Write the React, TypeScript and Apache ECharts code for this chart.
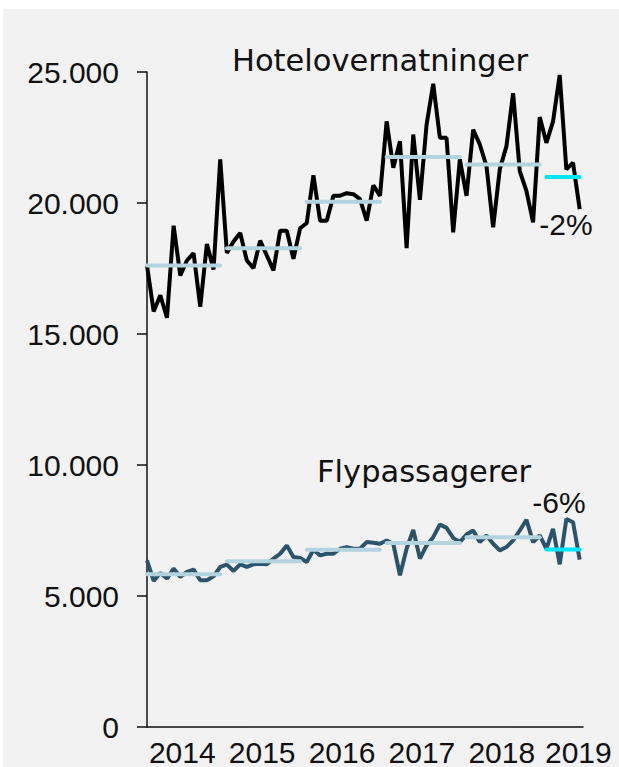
import React, { useEffect, useRef } from "react";
import * as echarts from "echarts";

// Monthly values, Jan 2014 – Jun 2019 (index 0 = Jan 2014)
const hotelNights: number[] = [
  17615, 15858, 16477, 15620, 19133, 17236, 17805, 18085, 16036, 18439, 17464, 21664,
  18097, 18527, 18857, 17805, 17517, 18565, 17995, 17426, 18944, 18944, 17870, 19034,
  19236, 21057, 19323, 19323, 20272, 20280, 20374, 20336, 20146, 19323, 20677, 20272,
  23117, 21349, 22361, 18275, 22613, 20120, 22992, 24547, 22487, 22487, 18883, 21664,
  20272, 22802, 22233, 21410, 19072, 21285, 22170, 24193, 21220, 20462, 19262, 23282,
  22297, 23117, 24888, 21285, 21538, 19767,
];

const flightPassengers: number[] = [
  6362, 5577, 5881, 5665, 6045, 5729, 5919, 6006, 5602, 5602, 5754, 6108,
  6197, 5957, 6210, 6108, 6210, 6235, 6210, 6425, 6613, 6930, 6488, 6450,
  6298, 6765, 6551, 6613, 6613, 6803, 6867, 6803, 6803, 7057, 7030, 6993,
  7120, 6993, 5793, 6803, 7525, 6425, 6930, 7247, 7727, 7601, 7221, 7057,
  7348, 7500, 7057, 7310, 6993, 6740, 6867, 7120, 7500, 7904, 7057, 7310,
  6803, 7563, 6210, 7942, 7816, 6387,
];

// Yearly averages (start month index, end month index, value)
const yearStarts: number[] = [0, 12, 24, 36, 48, 60];
const yearEnds: number[] = [11, 23, 35, 47, 59, 65];
const hotelAvg: number[] = [17615, 18275, 20044, 21753, 21474, 20993];
const flightAvg: number[] = [5830, 6324, 6765, 7019, 7247, 6778];

const yearLabels: string[] = ["2014", "2015", "2016", "2017", "2018", "2019"];
const yearLabelPositions: number[] = [5.3, 17.3, 29.3, 41.3, 53.3, 64.8];
const yTickLabels: string[] = ["0", "5.000", "10.000", "15.000", "20.000", "25.000"];

const hotelTitle = "Hotelovernatninger";
const flightTitle = "Flypassagerer";
const hotelChange = "-2%";
const flightChange = "-6%";

const AVG_COLOR = "#b3d4de";
const LAST_AVG_COLOR = "#00e5ff";

export default function App() {
  const ref = useRef<HTMLDivElement | null>(null);

  useEffect(() => {
    if (!ref.current) return;
    const chart = echarts.init(ref.current, undefined, { renderer: "svg" });

    const avgSeries = (avgs: number[], name: string) =>
      avgs.map((v, k) => ({
        name: `${name}-${yearLabels[k]}`,
        type: "line",
        data: [
          [yearStarts[k], v],
          [yearEnds[k], v],
        ],
        symbol: "none",
        z: 5,
        lineStyle: {
          color: k === avgs.length - 1 ? LAST_AVG_COLOR : AVG_COLOR,
          width: 4,
          cap: "round",
        },
        silent: true,
      }));

    const option: any = {
      animation: false,
      backgroundColor: "#f2f2f2",
      grid: { left: 144, right: 36, top: 63, bottom: 36, containLabel: false },
      xAxis: {
        type: "value",
        min: 0,
        max: 65.5,
        axisLine: { show: true, onZero: false, lineStyle: { color: "#111", width: 1.5 } },
        axisTick: { show: false },
        splitLine: { show: false },
        axisLabel: {
          customValues: yearLabelPositions,
          formatter: (v: number) => yearLabels[Math.min(yearLabels.length - 1, Math.floor(v / 12))],
          fontFamily: "Liberation Sans",
          fontSize: 30,
          color: "#111",
          margin: 10,
        },
      },
      yAxis: {
        type: "value",
        min: 0,
        max: 25000,
        interval: 5000,
        axisLine: { show: true, lineStyle: { color: "#111", width: 1.5 } },
        axisTick: { show: true, length: 10, lineStyle: { color: "#111", width: 1.5 } },
        splitLine: { show: false },
        axisLabel: {
          formatter: (v: number) => yTickLabels[Math.round(v / 5000)],
          fontFamily: "Liberation Sans",
          fontSize: 30,
          color: "#111",
          margin: 28,
        },
      },
      series: [
        {
          name: hotelTitle,
          type: "line",
          data: hotelNights.map((v, i) => [i, v]),
          symbol: "none",
          z: 3,
          lineStyle: { color: "#000", width: 4 },
        },
        {
          name: flightTitle,
          type: "line",
          data: flightPassengers.map((v, i) => [i, v]),
          symbol: "none",
          z: 3,
          lineStyle: { color: "#2b5369", width: 4 },
        },
        ...avgSeries(hotelAvg, "hotelAvg"),
        ...avgSeries(flightAvg, "flightAvg"),
      ],
      graphic: [
        {
          type: "text",
          x: 377,
          y: 51,
          style: {
            text: hotelTitle,
            font: "30.5px 'DejaVu Sans'",
            fill: "#111",
            align: "center",
            verticalAlign: "middle",
          },
        },
        {
          type: "text",
          x: 421,
          y: 462,
          style: {
            text: flightTitle,
            font: "30.5px 'DejaVu Sans'",
            fill: "#111",
            align: "center",
            verticalAlign: "middle",
          },
        },
        {
          type: "text",
          x: 563,
          y: 215,
          style: {
            text: hotelChange,
            font: "30px 'Liberation Sans'",
            fill: "#111",
            align: "center",
            verticalAlign: "middle",
          },
        },
        {
          type: "text",
          x: 556,
          y: 493,
          style: {
            text: flightChange,
            font: "30px 'Liberation Sans'",
            fill: "#111",
            align: "center",
            verticalAlign: "middle",
          },
        },
      ],
    };

    chart.setOption(option);
    return () => chart.dispose();
  }, []);

  return (
    <div
      style={{
        position: "absolute",
        left: 0,
        top: 0,
        width: 619,
        height: 767,
        background: "#ffffff",
        overflow: "hidden",
      }}
    >
      <div
        ref={ref}
        style={{
          position: "absolute",
          left: 3,
          top: 9,
          width: 616,
          height: 758,
          background: "#f2f2f2",
        }}
      />
    </div>
  );
}
